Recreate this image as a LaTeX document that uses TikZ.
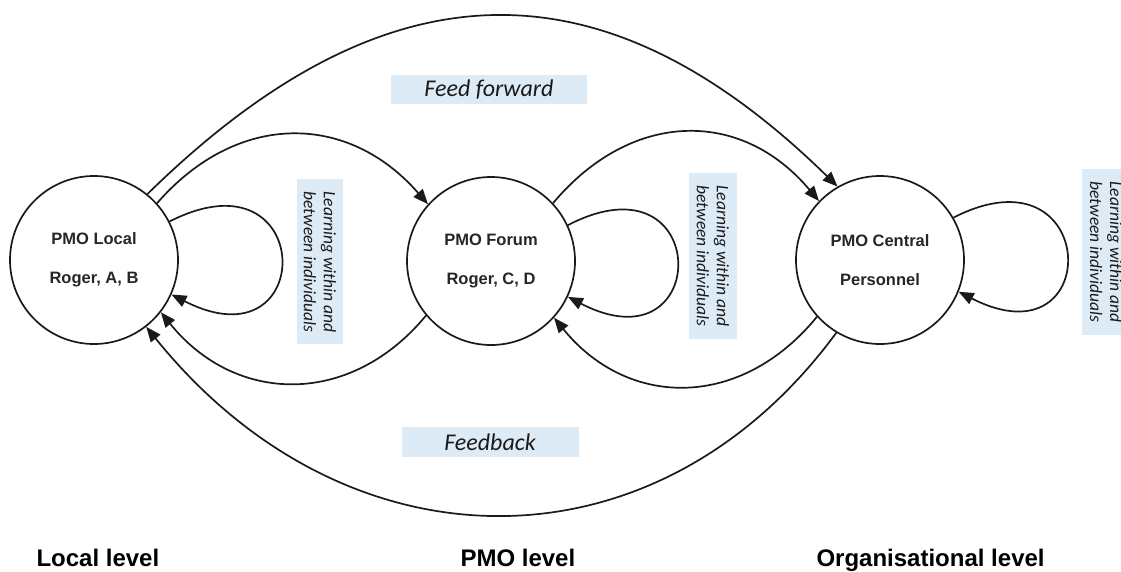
\documentclass[tikz,border=0pt]{standalone}
\usepackage{fontspec}
\setmainfont{Liberation Sans}
\newfontfamily\notefont{Carlito}
\usetikzlibrary{arrows.meta,calc}
\definecolor{ink}{HTML}{1A1A1A}
\definecolor{labelgray}{HTML}{262626}
\definecolor{notebg}{HTML}{DDEBF7}
\begin{document}
\begin{tikzpicture}[x=1pt,y=-1pt,
  unit/.style={circle,draw=ink,line width=1.7pt,minimum size=168pt,inner sep=0pt,
    align=center,font=\bfseries\fontsize{16.5}{19}\selectfont,text=labelgray},
  flow/.style={draw=ink,line width=1.7pt,-{Triangle[length=15pt,width=12pt]}},
  notetext/.style={rotate=-90,align=center,text=ink,
    font=\notefont\itshape\fontsize{17.5}{20}\selectfont},
  boxtext/.style={text=ink,font=\notefont\itshape\fontsize{24}{28}\selectfont},
  levellabel/.style={anchor=base west,text=black,font=\bfseries\fontsize{24}{28}\selectfont}]
\useasboundingbox (0,0) rectangle (1121,572);
\clip (0,0) rectangle (1121,572);

% label boxes
\fill[notebg] (297,179) rectangle (343,344);
\fill[notebg] (689,173) rectangle (737,339);
\fill[notebg] (1082,169) rectangle (1130,335);
\fill[notebg] (391,75) rectangle (587,104);
\fill[notebg] (402,427) rectangle (579,457);

\node[notetext] (n1) at (320,262) {Learning within and\\between individuals};
\node[notetext] (n2) at (713,256) {Learning within and\\between individuals};
\node[notetext] (n3) at (1106,252) {Learning within and\\between individuals};
\node[boxtext] (ff) at (489,90) {Feed forward};
\node[boxtext] (fb) at (490,442) {Feedback};

% the three units
\node[unit] (c1) at (94,260) {PMO Local\\[20pt]Roger, A, B};
\node[unit] (c2) at (491,261) {PMO Forum\\[20pt]Roger, C, D};
\node[unit] (c3) at (880,260) {PMO Central\\[20pt]Personnel};

% feed forward
\draw[flow] (c1.51) .. controls ($(c1.51)+(241,-236)$) and ($(c3.120)+(-233,-228)$) .. (c3.120);
\draw[flow] (c1.42) .. controls ($(c1.42)+(80,-92)$) and ($(c2.138)+(-80,-92)$) .. (c2.138);
\draw[flow] (c2.43) .. controls ($(c2.43)+(78,-93)$) and ($(c3.136)+(-78,-93)$) .. (c3.136);

% feedback
\draw[flow] (c2.-140) .. controls ($(c2.-140)+(-75,91)$) and ($(c1.-38)+(75,93)$) .. (c1.-38);
\draw[flow] (c3.-138) .. controls ($(c3.-138)+(-75,92)$) and ($(c2.-42)+(75,92)$) .. (c2.-42);
\draw[flow] (c3.-121) .. controls ($(c3.-121)+(-180,245)$) and ($(c1.-52)+(200,248)$) .. (c1.-52);

% learning loops
\draw[flow] (c1.27) .. controls ($(c1.27)+(147,-75)$) and ($(c1.-24)+(147,75)$) .. (c1.-24);
\draw[flow] (c2.25) .. controls ($(c2.25)+(145,-75)$) and ($(c2.-25)+(145,75)$) .. (c2.-25);
\draw[flow] (c3.30) .. controls ($(c3.30)+(147,-75)$) and ($(c3.-22)+(147,75)$) .. (c3.-22);

% levels
\node[levellabel] (l1) at (33,566) {Local level};
\node[levellabel] (l2) at (457,566) {PMO level};
\node[levellabel] (l3) at (813,566) {Organisational level};
\end{tikzpicture}
\end{document}
